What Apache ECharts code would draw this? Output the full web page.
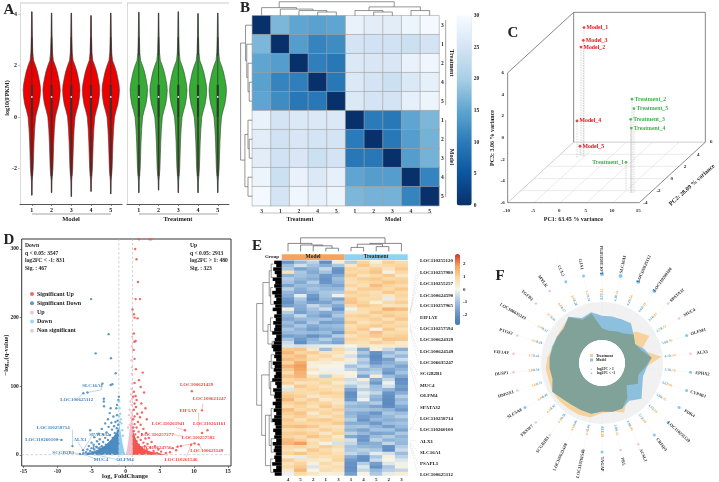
<!DOCTYPE html>
<html><head><meta charset="utf-8">
<style>html,body{margin:0;padding:0;background:#fff}#c{width:719px;height:482px;filter:blur(0.45px)}</style>
<script src="https://cdn.jsdelivr.net/npm/echarts@6/dist/echarts.min.js"></script>
</head><body><div id="c"></div>
<script>
// ---------- PANEL A data ----------
const sampleIds=[1,2,3,4,5];
const violinLevels=[3,2.5,2.2,2,1.75,1.5,1.25,1.05,0.8,0.5,0.25,0,-0.5,-1,-1.5,-2,-2.3,-2.5];
const violinWidths=[.03,.05,.09,.19,.29,.36,.42,.44,.42,.36,.27,.19,.14,.11,.09,.07,.04,.02];
const modelTop=[4.1,4.05,4.05,3.95,4.05];
const modelBottom=[-3.05,-2.95,-3.1,-2.9,-3.0];
const treatTop=[4.08,4.05,4.1,4.03,4.05];
const treatBottom=[-2.95,-2.85,-2.95,-2.95,-2.95];
// ---------- PANEL B data ----------
const sampleLabelsB=['3','1','2','4','5','1','2','3','4','5'];
const distance=[
[0,17,15,14.5,15,28,27,27,28.5,29.5],
[17,0,14,11,12,25,24.5,24.5,24,25],
[15,14,0,10.5,9.5,26,25.5,25.5,28,29],
[14.5,11,10.5,0,9.5,26,25,24,26,27.5],
[15,12,9.5,9.5,0,26,25,25,27.5,28.5],
[28,25,26,26,26,0,10,9.5,15,17],
[27,24.5,25.5,25,25,10,0,9.5,14,16.5],
[27,24.5,25.5,24,25,9.5,9.5,0,14,16.5],
[28.5,24,28,26,27.5,15,14,14,0,11],
[29.5,25,29,27.5,28.5,17,16.5,16.5,11,0]];
const bMerges=[[3.5,0,4.5,0,.25],[2.5,0,4,.25,.35],[1.5,0,3.25,.35,.45],[.5,0,2.37,.45,.55],[6.5,0,7.5,0,.25],[5.5,0,7,.25,.35],[8.5,0,9.5,0,.35],[6.25,.35,9,.35,.6],[1.44,.55,7.6,.6,.95]];
// ---------- PANEL C data ----------
const pcaNames=['Model_1','Model_3','Model_2','Model_4','Model_5','Treatment_2','Treatment_5','Treatment_3','Treatment_4','Treatment_1'];
const pc1=[-5.16,-5.16,-5.6,-5.98,-5.92,11.6,11.98,11.35,11.47,9.84];
const pc2=[3.7,3.6,3.6,3.3,3.7,-2.4,-2.4,-2.4,-2.4,-1.9];
const pc3=[5.88,4.75,4.13,-2.53,-5.09,2.67,1.8,.81,0,-3.45];
const pc1Ticks=[-10,-5,0,5,10,15], pc2Ticks=[-4,-2,0,2,4,6], pc3Ticks=[-6,-4,-2,0,2,4,6];
// ---------- PANEL D data ----------
const sigUp=[[1.95,314],[3.5,314],[3.75,314],[1.4,300],[1.6,285],[1.8,252],[1.46,227],[2.1,227],[1,212],[1.2,205],[1.3,200],[1.75,199],[1.2,177],[1.27,165],[1.46,166],[1.17,153],[1.3,140],[1.5,125],[2.5,120],[1.95,109],[1.3,105],[2.2,99],[2.7,91],[1.2,92],[1.46,86],[1.1,85],[1.6,80],[2.3,75],[1.3,75],[2.9,68],[1.5,70],[1.2,66],[2.4,62],[1.7,60],[1.3,56],[2.1,55],[1.1,52],[3.1,52],[1.8,48],[1.3,45],[2.2,44],[1.1,40],[1.6,40],[2.6,38],[1.2,35],[3,32],[1.9,34],[1.4,30],[2.4,30],[1.15,27],[1.8,26],[3.4,25],[2.9,24],[1.3,22],[2.2,22],[1.6,20],[3.8,19],[2.6,18],[1.2,17],[3.2,16],[1.9,15],[4.3,13],[2.8,13],[1.4,12],[3.6,11],[2.3,11],[4.8,8],[3.1,8],[1.7,9],[5.2,5],[4.1,6],[2.6,6],[5.9,3],[3.4,4],[1.3,6],[2,4],[4.6,3],[9.7,93],[11.2,65],[12,36],[11.2,32],[8.7,36],[10.1,17],[10.7,15.5],[9.6,15],[8.1,13],[7.6,12],[6.9,10],[7.4,7],[6.5,4]];
const sigDown=[[-5.07,227],[-2.5,176],[-4.4,148],[-2.15,141],[-1.46,119],[-3.4,104],[-2.2,102],[-1.95,103],[-5.6,91],[-6.2,90],[-3.2,82],[-3.2,78],[-3.17,71],[-1,85],[-1.07,80],[-1.27,73],[-2.2,68],[-1.37,68],[-2.34,61],[-1.27,58],[-1.8,56],[-2.6,52],[-1.2,50],[-1.5,48],[-2.1,47],[-3,46],[-1.1,44],[-1.7,42],[-2.5,41],[-1.3,39],[-3.5,38],[-2,37],[-5.2,36],[-1.15,35],[-2.8,33],[-1.6,32],[-4,31],[-3.3,30],[-2.3,29],[-1.2,28],[-4.6,26],[-3,25],[-1.9,25],[-3.8,23],[-2.6,22],[-1.4,22],[-4.2,20],[-3.3,19],[-5,18],[-2.2,18],[-3.9,16],[-4.7,15],[-2.9,15],[-1.6,15],[-5.4,13],[-3.5,13],[-4.3,12],[-2.4,11],[-5,10],[-3.9,10],[-1.3,10],[-5.6,8],[-4.6,8],[-3.2,8],[-2.1,7],[-6.24,7],[-5.2,6],[-4.1,6],[-5.8,4],[-4.9,4],[-3.6,4],[-7.8,13],[-9.4,22],[-6.7,1.5],[-6.2,2.5],[-5.4,2.2],[-1.8,20],[-1.1,17],[-2.7,5]];
const upLight=[[.95,172],[.9,158],[.85,138],[.92,128],[.9,118],[.95,104],[.85,96],[.8,88],[.95,82],[.7,78],[.9,73],[.6,66],[.85,62],[.5,58],[.75,54],[.35,40],[.6,44]];
const downLight=[[-.95,78],[-.9,68],[-.8,60],[-.95,56],[-.7,52],[-.6,46],[-.85,48],[-.5,36],[-.4,28]];
const nonSig=[[-6,.5],[-4.5,.6],[-3,.7],[-2,.6],[3,.6],[2,.7],[4.5,.5],[6,.4],[-.5,.8],[.5,.8]];
const skyCone=[[-1,0],[-1,50],[-.9,44],[-.7,32],[-.45,16],[-.2,5],[0,0]];
const pinkCone=[[0,0],[.2,8],[.4,22],[.6,38],[.8,54],[1,68],[1,0]];
const upMass=[[1,0],[1,38],[1.3,28],[1.8,17],[2.6,9],[3.6,5],[5,2.5],[6,0]];
const downMass=[[-1,0],[-1,40],[-1.4,32],[-2,24],[-3,14],[-4,8],[-5,4],[-6.5,1],[-6.5,0]];
// ---------- PANEL E data ----------
const heatColumns=['4','5','2','1','3','1','4','5','2','3'];
const heatRows=[
[-1.9,-1.2,-.7,-2.1,.4,-.8,1,.3,1.1,.8],
[-1.1,-.4,-1,-1.4,-.9,.5,1.2,.7,.9,1],
[-.9,-1.6,-1.3,-.6,-1.9,1,.8,1.1,.6,1.2],
[.6,-.9,-1.5,-1,-2,.9,1,1.3,.2,.9],
[-1.3,-1,-1.2,-1.8,-1.5,1.1,.6,.9,1.2,.5],
[-.8,-1.2,-1.4,-2,-1.1,.8,1.1,1.2,.9,1],
[-1,-1.5,-.8,-1.9,-1.3,.7,.9,1,1.3,1.1],
[-1.6,-1.1,-1.2,-1.4,-1.6,1,.7,1.4,1,.8],
[-.7,-1.4,-1,-1.2,-1.2,.6,1.1,1.1,.9,1.2],
[-1.2,-1.5,-1.3,-.9,-.8,1.1,.9,.7,1.2,.9],
[-1.4,-.2,-1.8,-1,-.1,.9,1,.8,.5,1],
[-1.8,-.9,-2.1,-1.2,-1.6,1.2,.8,.9,-.2,.8],
[-2,-1.2,-1.7,-1.6,-1,1.3,1,.3,.9,1.1],
[-1.7,-1.4,-.6,-1.1,-1.5,.9,1.2,1,.6,.7],
[.2,-1.5,-1,-.5,-1.9,-.1,.8,.9,1.6,1.4],
[-.8,-1.7,-1.2,-1.5,-1.2,.6,.7,1.2,1,.9],
[-1.3,-.6,-1.4,-1.8,-.9,1,1.1,.8,1.2,1],
[-1.5,-1.2,-1.1,-1,-1.4,.8,.9,1.1,.7,1.2],
[-1.1,-1.6,-.9,-1.7,-1.6,1.2,.6,.9,1.1,.8],
[-1.4,-.9,-1.5,-1.2,-1.1,.7,1,1.2,.9,1],
[-.9,-1.3,-1.7,-1.4,-1.3,.9,1.2,.2,1.2,.7],
[-1.2,-1.1,-1.2,-1.1,-1.8,1.1,.8,1.4,.8,.9],
[-1.7,-1.5,-2,-1.6,-.8,.6,1,1.2,1,1.1],
[-1,-1.8,-1.3,-.8,-1.4,1,.9,.6,1.3,1.2],
[-.5,-2.1,-1.1,-1.3,-1.6,.8,.7,1.1,.9,.4],
[-.3,-.4,-.3,-.2,-.2,.1,.6,.3,.4,.5],
[1.2,1.3,.5,-1.1,.9,-.3,-1.5,.2,-.6,-1.4],
[1.5,1,1.1,.6,.7,.2,-.9,-2,-1.2,-.7],
[1.1,1.4,.7,1,.4,-.4,-1.4,-2.2,-.8,-1.2],
[1.4,1.2,.9,.5,.8,.3,-.7,-2.1,-1.7,-.5],
[1,1.7,.3,.4,.2,-.2,-1,-1.9,-1.4,-1.1],
[1.6,1.9,.2,.1,.1,-1,-.6,-1.3,-1.1,-1.6],
[1.2,1.8,.5,-.1,-.1,-.6,-1.2,-.9,-1.6,-1.3],
[.8,1.6,.1,.3,.2,.1,-.8,-.7,-1.9,-1],
[1.3,1.5,.6,-.7,.5,.2,-1.6,.3,-1.1,-1.5],
[.9,1.1,1,.8,.9,-.5,.3,-1.4,-.6,-2.1],
[1.1,.6,.7,1,.4,-.3,-.5,-1.8,-.1,-2],
[.3,1.2,.9,.6,.8,-.9,-.3,-1.1,-.4,-1.7],
[-.3,.8,1,.9,.6,-1.6,-.7,-1,-1.3,-1.9],
[1,.9,.8,1.1,1,-2.1,-.2,-.6,-1.9,-1.4],
[1.2,1.1,.5,.7,.9,-2,-.4,-1.2,-2.1,-.8],
[1.5,.8,1.1,.4,.6,-1.8,-.1,-1.4,-2.2,-1.2],
[1,1.2,.9,1,.5,-.9,-1.1,-.8,-2.2,-1],
[.7,1,.6,1.2,.8,-1.2,-1.3,-1.6,-2.1,-1.5],
[1.4,.9,1,.8,1.1,-1,-1,-1.1,-1.3,-1.8],
[1.1,1.3,.4,1,.7,-1.3,-1.5,-1.9,-.9,-1.1],
[.9,1.1,.8,.6,1,-1.1,-1.7,-1.5,-1.2,-.8],
[1.2,.7,1.1,1.2,.9,-.8,-1.9,-1.2,-1.4,-1.3],
[1,1,.9,.9,1.2,-1.4,-1.4,-1.8,-1.1,-1],
[1.3,1.4,1.2,.7,.6,-1,-.9,-1.3,-1.7,-1.2],
[.8,.9,.7,1.1,.8,-1.3,-1.6,-1,-1,-1.6],
[1.1,1.2,1,.5,1,-.7,-1.2,-1.6,-1.5,-.9],
[1,.8,1.3,1,.4,-1.5,-1.8,-1.1,-.8,-1.3],
[1.4,1.1,.6,.9,.7,-.4,-1.9,-.7,-1.3,-1.1],
[1.5,1.9,.8,.2,-.4,-.6,-1.5,-1.4,-.6,-1.2],
[.9,1,.7,1.1,.8,-1,-1.2,-1.3,-2,-.8],
[.7,.4,1.2,.8,.5,-.9,-.7,-.9,-2.1,-.5],
[1,1.3,.9,1,.7,-.6,-1,-.2,-.4,-1.1],
[.3,-.2,.8,.7,.9,-1.4,-2,-.9,.2,-.7],
[1.1,.6,.5,.4,1,-1.8,-2.1,-.5,.1,-.3],
[.6,1,.2,.9,.5,-2,-.8,-1.7,-.3,-.1],
[.9,1.2,-.3,.6,.8,-2.1,-.3,-2,-.9,.2],
[.4,1.5,.1,.8,.6,-2,-.6,-1.2,-.7,-.6],
[-.1,.9,.5,.2,.3,-1.7,.1,-.9,-.2,.3]];
const leafLengths=[.3,.22,.34,.28,.2,.36,.26,.3,.24,.38,.28,.22,.32,.26,.36,.2,.3,.24,.34,.26,.3,.38,.22,.28,.32,.4,.34,.26,.3,.22,.36,.28,.32,.24,.3,.38,.26,.2,.34,.28,.3,.24,.36,.26,.32,.22,.3,.38,.28,.24,.34,.26,.3,.22,.36,.28,.32,.24,.3,.26,.38,.22,.34,.28];
const eRowMerges=[[1,.33,5,.35,.42],[8,.35,13,.33,.44],[17,.35,21,.33,.45],[24,.3,25.5,.3,.38],[28,.3,32,.35,.42],[36,.33,40,.3,.44],[44,.35,48,.33,.42],[53,.3,57,.33,.42],[59,.33,63,.33,.44],[3,.42,10.5,.44,.5],[19,.45,24.8,.38,.55],[6.5,.5,21,.55,.75],[30,.42,38,.44,.5],[46,.42,55,.42,.5],[46,.5,61,.44,.65],[34,.5,52,.65,.8],[12.75,.75,43,.8,1]];
const eColMerges=[[3.5,.1,4.5,.1,.3],[2.5,.1,4,.3,.45],[1.5,.1,3.25,.45,.5],[.5,.1,2.4,.5,.6],[5.5,.1,6.5,.1,.35],[7.5,.1,8.5,.1,.4],[6,.35,8,.4,.55],[9.5,.1,7,.55,.6],[1.5,.6,8.2,.6,.95]];
const geneLabels=['LOC110255120','LOC110257980','LOC110255257','LOC100624590','LOC110257965','EIF1AY','LOC110257594','LOC100624329','LOC100624549','LOC106635247','SCGB2B1','MUC4','OLFM4','SPATA32','LOC110258714','LOC110260100','ALX1','SLC16A1','PSAPL1','LOC100625112'];
const geneLabelY=[92,128,162,196,228,262,296,330,364,398,432,466,498,532,566,600,634,668,702,735];
const geneLeaderEnd=[250,250,245,240,245,285,288,292,296,300,390,400,412,600,600,595,630,635,640,645];
// ---------- PANEL F data ----------
const spokeGenes=['LOC110258714','SLC16A1','LOC100625112','LOC110260100','SPATA32','MUC4','OLFM4','ALX1','EPHX2','CYP4B1','PDK4','LOC110255120','CRISP3','ACSL1','PRL','TAGAP','LOC110261546','LOC100621429','SCGB2B1','FBXW7','SLC5A8','HMOX1','DUSP1','EIF1AY','PTGS2','LOC106635247','TGFB3','MYLK','CCL2','GJA1'];
const modelRadial=[142,143,144,148,128,115,135,150,135,130,140,160,140,150,150,146,156,155,155,160,172,156,158,158,158,156,155,172,148,156];
const treatmentRadial=[105,100,105,110,141,164,125,180,130,115,125,100,130,163,150,150,167,170,170,172,172,168,170,165,155,158,160,170,142,152];
const treatmentValues=[3.12,2.41,3.56,2.18,3.87,4.22,1.95,5.14,2.76,3.01,3.35,2.09,3.68,4.41,3.22,3.18,4.56,4.62,4.38,4.21,3.94,3.61,3.88,3.72,3.16,3.49,3.77,4.03,2.94,3.27];
const modelValues=[4.35,4.28,4.41,4.62,3.51,2.73,3.64,4.12,3.35,3.27,3.86,4.55,3.72,3.96,3.89,4.01,3.84,3.66,3.58,3.92,4.48,3.31,3.54,3.45,3.39,3.52,3.41,4.17,3.28,3.74];
const dotDown=[1,1,1,1,0,0,1,0,1,1,1,1,1,0,0,1,0,0,0,0,1,0,0,0,0,0,0,0,1,1];
const heatBlues=['#08306b','#0b559f','#2b7bba','#5ea5d1','#a9cfe5','#d4e4f4','#f7fbff'];
const heatDiverge=['#4575b4','#6a96c8','#a8c6e2','#f6f6ee','#fbd9a3','#f3a35f','#d73027'];
const ser='"Liberation Serif","Times New Roman",serif';

// ---------- helpers ----------
const grid=[],xAxis=[],yAxis=[],series=[],graphic=[],visualMap=[],polar=[],angleAxis=[],radiusAxis=[];
const hidden={show:false};
function addGrid(r,xa,ya){
  grid.push({left:r[0],top:r[1],width:r[2]-r[0],height:r[3]-r[1],containLabel:false,...(r[4]||{})});
  const g=grid.length-1;
  const ax=(o)=>o.type==='category'?{gridIndex:g,show:false,...o}:{gridIndex:g,type:'value',show:false,min:0,max:1,...o};
  xAxis.push(ax(xa));yAxis.push(ax(ya));
  return {g,x:xAxis.length-1,y:yAxis.length-1};
}
const onG=a=>({xAxisIndex:a.x,yAxisIndex:a.y});
function txt(x,y,s,o={}){graphic.push({type:'text',x,y,rotation:(o.rot||0)*Math.PI/180,z:o.z||50,silent:true,style:{text:s,fill:o.color||'#222',font:`${o.bold===false?'':'bold '}${o.size||6}px ${ser}`,textAlign:o.align||'center',textVerticalAlign:'middle'}});}
function gline(x1,y1,x2,y2,color,w,dash,z){graphic.push({type:'line',z:z||5,silent:true,shape:{x1,y1,x2,y2},style:{stroke:color,lineWidth:w||.6,lineDash:dash||null}});}
function segSeries(a,segs,st){series.push({type:'custom',...onG(a),silent:true,clip:false,animation:false,z:st.z||3,data:segs,
  renderItem:(p,api)=>{const s=api.coord([api.value(0),api.value(1)]),e=api.coord([api.value(2),api.value(3)]);
    return {type:'line',shape:{x1:s[0],y1:s[1],x2:e[0],y2:e[1]},style:{stroke:st.color,lineWidth:st.width||.6,lineDash:st.dash||null}};}});}
function polySeries(a,pts,color,z){series.push({type:'custom',...onG(a),silent:true,clip:false,z:z||2,data:[pts[0]],
  renderItem:(p,api)=>({type:'polygon',shape:{points:pts.map(q=>api.coord(q))},style:{fill:color}})});}
function textSeries(coordOpt,items,z){series.push({type:'custom',...coordOpt,silent:true,clip:false,z:z||6,data:items.map(i=>[i.x,i.y]),
  renderItem:(p,api)=>{const it=items[p.dataIndex],c=api.coord([it.x,it.y]);
    return {type:'text',x:c[0]+(it.dx||0),y:c[1]+(it.dy||0),rotation:(it.rot||0)*Math.PI/180,style:{text:it.text,fill:it.color||'#222',font:`${it.normal?'':'bold '}${it.size||6}px ${ser}`,align:it.align||'center',verticalAlign:'middle'}};}});}
function mergeSegs(m,flip){const o=[];m.forEach(t=>{const [a,ha,b,hb,h]=t;const L=[[a,ha,a,h],[a,h,b,h],[b,h,b,hb]];
  L.forEach(s=>o.push(flip?[s[1],s[0],s[3],s[2]]:s));});return o;}

// ---------- PANEL A ----------
function violinPanel(rect,tops,bottoms,fill,showY){
  const a=addGrid(rect,{min:.4,max:5.57,show:true,position:'bottom',axisLine:{onZero:false,lineStyle:{color:'#444',width:.9}},axisTick:{length:2,lineStyle:{color:'#444',width:.6},customValues:sampleIds},splitLine:hidden,
      axisLabel:{customValues:sampleIds,margin:3,fontFamily:ser,fontWeight:'bold',fontSize:6,color:'#222'}},
    {min:-3.39,max:4.44,show:true,axisLine:{show:true,onZero:false,lineStyle:{color:'#ccc',width:.7}},axisTick:{show:showY,length:2,lineStyle:{color:'#888',width:.5},customValues:[-2,0,2,4]},splitLine:hidden,
      axisLabel:{show:showY,customValues:[-2,0,2,4],margin:3,fontFamily:ser,fontWeight:'bold',fontSize:6,color:'#222'}});
  series.push({type:'custom',...onG(a),silent:true,clip:false,z:3,data:sampleIds.map((id,i)=>[id,tops[i],bottoms[i]]),
    renderItem:(p,api)=>{const pos=api.value(0),t=api.value(1),b=api.value(2);
      const lv=[t,...violinLevels,b],wd=[.012,...violinWidths,.012];
      const pts=[];lv.forEach((y,i)=>pts.push(api.coord([pos+wd[i],y])));
      for(let i=lv.length-1;i>=0;i--)pts.push(api.coord([pos-wd[i],lv[i]]));
      const c=(y)=>api.coord([pos,y]);
      const ln=(y1,y2,w,col)=>({type:'line',shape:{x1:c(y1)[0],y1:c(y1)[1],x2:c(y2)[0],y2:c(y2)[1]},style:{stroke:col,lineWidth:w}});
      const m=c(.78);
      return {type:'group',children:[
        {type:'polygon',shape:{points:pts},style:{fill,stroke:'#3a3a3a',lineWidth:.6}},
        ln(t,b,1,'rgba(55,55,55,.85)'),ln(2.4,3.1,1.6,'rgba(40,40,40,.6)'),
        ln(0,-2.3,2.2,'rgba(60,40,40,.55)'),ln(1.25,0,2.2,'#333'),
        {type:'circle',shape:{cx:m[0],cy:m[1],r:.85},style:{fill:'#fff'}}]};}});
  return a;
}
violinPanel([20,3,122,204],modelTop,modelBottom,'#ee0000',true);
violinPanel([127,3,229,204],treatTop,treatBottom,'#35ad35',false);
gline(20,3,122,3,'#ddd',1.6);gline(127,3,229,3,'#ddd',1.6);
gline(32,214,111,214,'#666',.6);gline(139,214,218,214,'#666',.6);
txt(71,219,'Model',{size:6.5});txt(178,219,'Treatment',{size:6.5});
txt(7,98,'log10(FPKM)',{size:6,rot:90});
txt(9,10,'A',{size:15});

// ---------- PANEL B ----------
{const rect=[252.3,15.7,439,205.7];
 const a=addGrid(rect,{type:'category',data:sampleLabelsB.map((s,i)=>i+''),show:true,position:'bottom',axisLine:hidden,axisTick:hidden,splitLine:hidden,
   axisLabel:{formatter:(v)=>sampleLabelsB[+v],margin:3,fontFamily:ser,fontWeight:'bold',fontSize:5.5,color:'#222',interval:0}},
  {type:'category',data:sampleLabelsB.map((s,i)=>i+''),show:true,position:'right',inverse:true,axisLine:hidden,axisTick:hidden,splitLine:hidden,
   axisLabel:{formatter:(v)=>sampleLabelsB[+v],margin:2,fontFamily:ser,fontWeight:'bold',fontSize:5.5,color:'#222',interval:0}});
 const d=[];distance.forEach((r,j)=>r.forEach((v,i)=>d.push([i,j,v])));
 series.push({type:'heatmap',...onG(a),silent:true,data:d,itemStyle:{borderColor:'#a3a3a3',borderWidth:.6},z:2});
 visualMap.push({type:'continuous',seriesIndex:series.length-1,min:0,max:30,calculable:false,hoverLink:false,padding:0,left:456.7,top:15.7,itemWidth:15,itemHeight:189.7,inRange:{color:heatBlues},showLabel:false,formatter:()=>''});
 addGrid([456.7,15.7,471.7,205.4],{},{min:0,max:30,show:true,position:'right',axisLine:hidden,axisTick:hidden,splitLine:hidden,axisLabel:{customValues:[0,5,10,15,20,25,30],margin:2,fontFamily:ser,fontWeight:'bold',fontSize:5.5,color:'#222'}});
 const t=addGrid([252.3,1,439,15.7],{min:0,max:10},{min:0,max:1});
 segSeries(t,mergeSegs(bMerges),{color:'#666',width:.7});
 const l=addGrid([240,15.7,252.3,205.7],{min:0,max:1,inverse:true},{min:0,max:10,inverse:true});
 segSeries(l,mergeSegs(bMerges,true),{color:'#666',width:.7});
 gline(445.7,20,445.7,105,'#666',.6);gline(445.7,120,445.7,197,'#666',.6);
 gline(261,213,340,213,'#999',.6);gline(355,213,432,213,'#999',.6);
 txt(300,219,'Treatment',{size:6});txt(393,219,'Model',{size:6});
 txt(451.5,63,'Treatment',{size:6,rot:-90});txt(451.5,157,'Model',{size:6,rot:-90});
 txt(245,8,'B',{size:15});
}

// ---------- PANEL C ----------
{const k1=19.8/15.8,k2=18/32.2;
 const a=addGrid([507.67,12.33,705.33,202.67],{min:-10,max:15+10*k1},{min:-6,max:6+10*k2});
 const P=(x,y,z)=>[x+(y+4)*k1,z+(y+4)*k2];
 const s=(A,B)=>[...A,...B];
 const floor=[];
 pc1Ticks.slice(1,-1).forEach(v=>floor.push(s(P(v,-4,-6),P(v,6,-6))));
 pc2Ticks.slice(1,-1).forEach(v=>floor.push(s(P(-10,v,-6),P(15,v,-6))));
 segSeries(a,floor,{color:'#ddd',width:.6});
 segSeries(a,[s(P(-10,6,-6),P(15,6,-6)),s(P(-10,-4,-6),P(-10,6,-6))],{color:'#bbb',width:.7});
 segSeries(a,[s(P(-10,6,6),P(15,6,6)),s(P(15,6,6),P(15,6,-6)),s(P(-10,6,6),P(-10,6,-6)),s(P(-10,-4,6),P(-10,6,6)),s(P(-10,-4,6),P(-10,-4,-6)),s(P(-10,-4,-6),P(15,-4,-6)),s(P(15,-4,-6),P(15,6,-6))],{color:'#555',width:.7});
 segSeries(a,pc1.map((v,i)=>s(P(v,pc2[i],pc3[i]),P(v,pc2[i],-6))),{color:'#bbb',width:.6,dash:[1.5,1]});
 series.push({type:'scatter',...onG(a),silent:true,clip:false,z:5,symbolSize:2.8,data:pc1.map((v,i)=>({value:P(v,pc2[i],pc3[i]),itemStyle:{color:i<5?'#e8141c':'#2fae3a'}}))});
 textSeries(onG(a),pc1.map((v,i)=>{const q=P(v,pc2[i],pc3[i]);const last=i==9;return {x:q[0],y:q[1],text:pcaNames[i],color:i<5?'#e8141c':'#3cb34a',size:5.8,align:last?'right':'left',dx:last?-2:2.5};}));
 textSeries(onG(a),[...pc1Ticks.map(v=>{const q=P(v,-4,-6);return {x:q[0],y:q[1],text:String(v),size:5,dy:8,dx:-1};}),
   ...pc2Ticks.map(v=>{const q=P(15,v,-6);return {x:q[0],y:q[1],text:String(v),size:5,dx:6,dy:0};}),
   ...pc3Ticks.map(v=>{const q=P(-10,-4,v);return {x:q[0],y:q[1],text:String(v),size:5,dx:-5};})]);
 txt(573.3,219.3,'PC1: 63.45 % variance',{size:6});
 txt(492,138,'PC3: 3.06 % variance',{size:6,rot:90});
 txt(692,185,'PC2: 28.09 % variance',{size:6,rot:42});
 txt(513,33,'C',{size:15});
}

// ---------- PANEL D ----------
{const xt=[-15,-10,-5,0,5,10,15],yt=[0,100,200,300];
 const lab={fontFamily:ser,fontWeight:'bold',fontSize:5.5,color:'#222',margin:3};
 const a=addGrid([21.7,239,231,466,{show:true,borderColor:'#333',borderWidth:1,backgroundColor:'#fff'}],
  {min:-15.24,max:15.44,show:true,axisLine:{show:false,onZero:false},splitLine:hidden,axisTick:{length:2,lineStyle:{color:'#333',width:.6},customValues:xt},axisLabel:{...lab,customValues:xt}},
  {min:-16,max:314.5,show:true,axisLine:{show:false,onZero:false},splitLine:hidden,axisTick:{length:2,lineStyle:{color:'#333',width:.6},customValues:yt},axisLabel:{...lab,customValues:yt}});
 polySeries(a,skyCone,'#8fd0f2',2);polySeries(a,pinkCone,'#f6bccb',2);polySeries(a,upMass,'#f4564f',2);polySeries(a,downMass,'#4c8cc0',2);
 const sc=(name,data,color,size)=>series.push({name,type:'scatter',...onG(a),silent:true,clip:false,z:4,symbolSize:size,itemStyle:{color,opacity:.9},data});
 sc('Significant Up',sigUp,'#f4564f',2.4);
 sc('Significant Down',sigDown,'#4c8cc0',2.4);
 sc('Up',upLight,'#f6bccb',2.4);
 sc('Down',downLight,'#8fd0f2',2.4);
 sc('Non significant',nonSig,'#cfcfcf',2.2);
 segSeries(a,[[-1,-16,-1,314.5],[1,-16,1,314.5]],{color:'#bdbdbd',width:.7,dash:[2.5,2]});
 segSeries(a,[[-15.24,.5,15.44,.5]],{color:'#bdbdbd',width:.7,dash:[2.5,2]});
 segSeries(a,[[-3.56,104,-3.56,95],[-3.56,95,-5.6,91],[-6.24,90,-6.98,82.5],[-7.8,13,-7.8,37],[-9.4,22,-10.1,23],[-6.24,7,-7,19],[-6.24,7,-5,27],[-6.7,1.5,-7.7,3.4],[-6.24,1.5,-4.3,-6.3],[-5,1.5,-1.37,-6.3]],{color:'#7fb0d6',width:.5});
 segSeries(a,[[11.3,75,11.2,65],[10.7,62,10.7,41],[7.4,40,8.7,36],[6.9,30,8.5,27],[10.1,17,7.4,12],[10.7,15.5,11.3,7],[9.6,15,8.9,-2.4]],{color:'#f08a85',width:.5});
 const C={color:'#ee4a44',size:5};
 [['LOC100621429',590,463],['LOC100621247',628,507],['EIF1AY',565,543],['LOC110261161',628,581],['LOC110261941',505,580],['LOC110257582',595,622],['LOC110257277',472,615],['LOC110624756',465,653],['LOC100621149',620,663],['LOC110261546',543,689]].forEach(t=>txt(t[1]/3,230+t[2]/3,t[0],C));
 const B={color:'#4a86b8',size:5};
 [['SLC16A1',278,468],['LOC100625112',230,510],['LOC110258714',160,592],['LOC110260100',125,628],['ALX1',240,628],['SPATA32',298,614],['SCGB2B1',190,667],['PSAPL1',305,653],['MUC4',303,688],['OLFM4',375,688]].forEach(t=>txt(t[1]/3,230+t[2]/3,t[0],B));
 ['Down','q < 0.05: 3547','log2FC < -1: 831','Sig. : 467'].forEach((t,i)=>txt(25,[246,253.5,261,268.5][i],t,{align:'left',size:5.6}));
 ['Up','q < 0.05: 2913','log2FC > 1: 480','Sig. : 323'].forEach((t,i)=>txt(190,[246,253.5,261,268.5][i],t,{align:'left',size:5.6}));
 txt(125,476.7,'log₂ FoldChange',{size:6.5});
 txt(6,355,'−log₁₀(q-value)',{size:6.5,rot:90});
 txt(9,240,'D',{size:15});
}

// ---------- PANEL E ----------
{const rows=heatRows.map((r,i)=>i+'');
 const a=addGrid([281.7,260.7,407.7,475.7],
  {type:'category',data:heatColumns.map((s,i)=>i+''),show:true,axisLine:hidden,axisTick:hidden,splitLine:hidden,axisLabel:{formatter:v=>heatColumns[+v],interval:0,margin:1.5,fontFamily:ser,fontWeight:'bold',fontSize:5,color:'#222'}},
  {type:'category',data:rows,inverse:true,show:false});
 const d=[];heatRows.forEach((r,j)=>r.forEach((v,i)=>d.push([i,j,v])));
 series.push({type:'heatmap',...onG(a),silent:true,data:d,z:2});
 visualMap.push({type:'continuous',seriesIndex:series.length-1,min:-2.8,max:2.8,calculable:false,hoverLink:false,padding:0,left:455,top:254,itemWidth:5,itemHeight:71,inRange:{color:heatDiverge},showLabel:false,formatter:()=>''});
 addGrid([455,254,460,325],{},{min:-2.8,max:2.8,show:true,position:'right',axisLine:hidden,axisTick:hidden,splitLine:hidden,axisLabel:{customValues:[-2,-1,0,1,2],margin:3,fontFamily:ser,fontWeight:'bold',fontSize:5,color:'#222'}});
 const t=addGrid([281.7,237,407.7,253],{min:0,max:10},{min:0,max:1});
 segSeries(t,mergeSegs(eColMerges),{color:'#555',width:.7});
 const l=addGrid([256.7,260.7,281.7,475.7],{min:0,max:1,inverse:true},{min:0,max:heatRows.length,inverse:true});
 segSeries(l,leafLengths.map((h,i)=>[0,i+.5,h,i+.5]),{color:'#000',width:3.5});
 segSeries(l,mergeSegs(eRowMerges,true),{color:'#444',width:.55});
 graphic.push({type:'rect',z:5,silent:true,shape:{x:281.7,y:254.3,width:63,height:5.7},style:{fill:'#f4a460'}});
 graphic.push({type:'rect',z:5,silent:true,shape:{x:344.7,y:254.3,width:63,height:5.7},style:{fill:'#8fd3f4'}});
 txt(313,257,'Model',{size:5.5});txt(376,257,'Treatment',{size:5.5});txt(272,256.7,'Group',{size:5});
 geneLabels.forEach((g,i)=>{const y=230+geneLabelY[i]/3;txt(420,y,g,{align:'left',size:5});
   gline(410,230+geneLeaderEnd[i]/3,418,y,'#cfcfcf',.5,[1.5,1]);});
 txt(257,246,'E',{size:15});
}

// ---------- PANEL F ----------
{const cx=602,cy=363;
 const angles=spokeGenes.map((s,i)=>i*12);
 polar.push({center:[cx,cy],radius:[23,61]});
 polar.push({center:[cx,cy],radius:[0,112]});
 angleAxis.push({polarIndex:0,type:'value',min:0,max:360,startAngle:90,show:false});
 radiusAxis.push({polarIndex:0,type:'value',min:70,max:183,interval:113,axisLine:hidden,axisTick:hidden,axisLabel:hidden,splitLine:hidden,splitArea:{show:true,areaStyle:{color:['#f1f1f1','#f1f1f1']}}});
 angleAxis.push({polarIndex:1,type:'value',min:0,max:360,interval:12,startAngle:90,axisLine:hidden,axisTick:hidden,axisLabel:hidden,splitLine:{show:true,lineStyle:{color:'#e6e6e6',width:.5,type:'dotted'}}});
 radiusAxis.push({polarIndex:1,type:'value',min:0,max:112,axisLine:hidden,axisTick:hidden,axisLabel:hidden,splitLine:hidden});
 const ring=v=>[...v.map((r,i)=>[r,angles[i]]),[v[0],360]];
 const area=(v,c,z)=>series.push({type:'line',coordinateSystem:'polar',polarIndex:0,silent:true,symbol:'none',z,lineStyle:{width:0},areaStyle:{color:c,opacity:1},data:ring(v)});
 area(treatmentRadial,'#f7d29c',3);
 area(modelRadial,'#8cc0dc',3);
 area(treatmentRadial.map((v,i)=>Math.min(v,modelRadial[i])),'#80a298',3);
 series.push({type:'scatter',coordinateSystem:'polar',polarIndex:1,silent:true,z:4,data:angles.map((t,i)=>({value:[89,t],symbolSize:dotDown[i]&&i<4?4:(dotDown[i]?3:2.6),itemStyle:{color:dotDown[i]?'#63bdf2':'#f6b6c6'}}))});
 const po={coordinateSystem:'polar',polarIndex:1};
 const rot=t=>t<=180?90-t:270-t;
 textSeries(po,angles.map((t,i)=>({x:spokeGenes[i].length>7?103:101,y:t,text:spokeGenes[i],size:4.4,rot:rot(t),color:'#333'})));
 textSeries(po,[...angles.map((t,i)=>({x:71,y:t,text:treatmentValues[i].toFixed(2),size:3.4,rot:rot(t),color:'#f0a94a'})),
   ...angles.map((t,i)=>({x:66,y:t,text:modelValues[i].toFixed(2),size:3.4,rot:rot(t),color:'#4da6dd'}))]);
 graphic.push({type:'circle',z:20,silent:true,shape:{cx,cy,r:23},style:{fill:'#fff'}});
 graphic.push({type:'rect',z:21,silent:true,shape:{x:590,y:354,width:3,height:3},style:{fill:'#f6cf96'}});
 graphic.push({type:'rect',z:21,silent:true,shape:{x:590,y:358.5,width:3,height:3},style:{fill:'#8cc4e4'}});
 graphic.push({type:'circle',z:21,silent:true,shape:{cx:591.5,cy:369.3,r:.8},style:{fill:'#f6b6c6'}});
 graphic.push({type:'circle',z:21,silent:true,shape:{cx:591.5,cy:373.3,r:.8},style:{fill:'#63bdf2'}});
 txt(596,355.7,'Treatment',{size:3.8,align:'left',z:22});txt(596,360,'Model',{size:3.8,align:'left',z:22});
 txt(597,369.3,'log2FC > 1',{size:3.6,align:'left',z:22});txt(597,373.3,'log2FC < -1',{size:3.6,align:'left',z:22});
 txt(500,276,'F',{size:15});
}

const chart=echarts.init(document.getElementById('c'),null,{renderer:'canvas',width:719,height:482});
chart.setOption({animation:false,backgroundColor:'#fff',grid,xAxis,yAxis,polar,angleAxis,radiusAxis,series,visualMap,
 legend:{left:25,top:286,orient:'vertical',itemWidth:4,itemHeight:4,itemGap:3.2,selectedMode:false,icon:'circle',data:['Significant Up','Significant Down','Up','Down','Non significant'],textStyle:{fontFamily:ser,fontWeight:'bold',fontSize:6,color:'#222',padding:[0,0,0,-2]}},
 graphic:{elements:graphic}});
</script></body></html>
